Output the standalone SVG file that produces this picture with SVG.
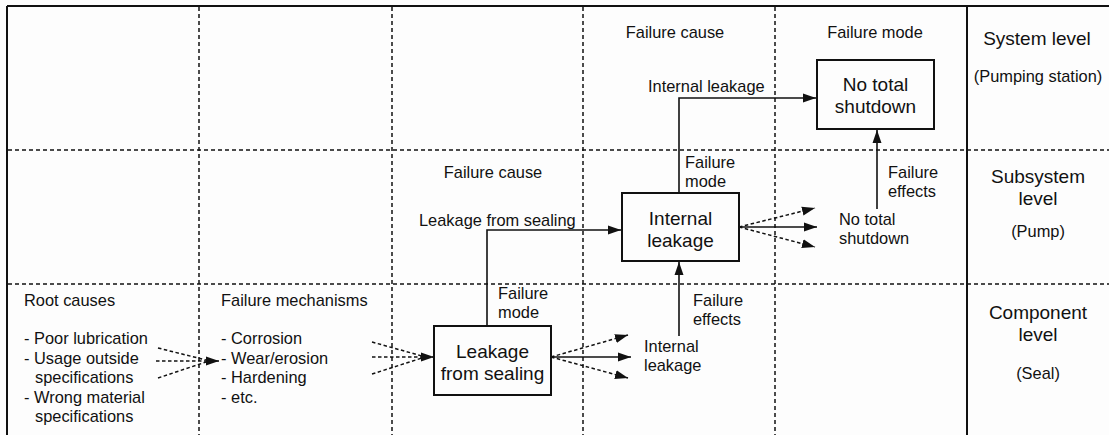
<svg xmlns="http://www.w3.org/2000/svg" width="1109" height="435" viewBox="0 0 1109 435">
  <style>
    text { font-family: "Liberation Sans", Arial, sans-serif; fill: #111; }
    .lbl { font-size: 16.4px; }
    .big { font-size: 19px; }
    .mid { text-anchor: middle; }
    .frame { stroke: #111; stroke-width: 2; fill: none; }
    .grid { stroke: #111; stroke-width: 1.5; stroke-dasharray: 4 3; fill: none; }
    .box { stroke: #111; stroke-width: 2; fill: none; }
    .link { stroke: #111; stroke-width: 1.6; fill: none; }
    .dash { stroke: #111; stroke-width: 1.5; stroke-dasharray: 3.5 2.5; fill: none; }
  </style>
  <defs>
    <marker id="head" markerUnits="userSpaceOnUse" markerWidth="13" markerHeight="10" refX="13" refY="5" orient="auto">
      <path d="M0,0.5 L13,5 L0,9.5 z" fill="#111"/>
    </marker>
  </defs>

  <rect x="0" y="0" width="1109" height="435" fill="#fdfdfd"/>

  <!-- level / stage grid -->
  <g id="grid">
    <line class="frame" x1="7" y1="6" x2="1109" y2="6"/>
    <line class="frame" x1="7" y1="6" x2="7" y2="435"/>
    <line class="grid" x1="199" y1="7" x2="199" y2="435"/>
    <line class="grid" x1="392" y1="7" x2="392" y2="435"/>
    <line class="grid" x1="583" y1="7" x2="583" y2="435"/>
    <line class="grid" x1="775" y1="7" x2="775" y2="435"/>
    <line class="grid" x1="8" y1="150" x2="1109" y2="150"/>
    <line class="grid" x1="8" y1="284" x2="1109" y2="284"/>
    <line class="frame" x1="967" y1="7" x2="967" y2="435" stroke-width="1.6"/>
  </g>

  <!-- level captions -->
  <g id="level-system">
    <text class="big mid" x="1037" y="45">System level</text>
    <text class="lbl mid" x="1038" y="82">(Pumping station)</text>
  </g>
  <g id="level-subsystem">
    <text class="big mid" x="1038" y="183">Subsystem</text>
    <text class="big mid" x="1038" y="205">level</text>
    <text class="lbl mid" x="1038" y="237">(Pump)</text>
  </g>
  <g id="level-component">
    <text class="big mid" x="1038" y="319">Component</text>
    <text class="big mid" x="1038" y="341">level</text>
    <text class="lbl mid" x="1038" y="379">(Seal)</text>
  </g>

  <!-- column headings -->
  <g id="headings">
    <text class="lbl mid" x="675" y="38">Failure cause</text>
    <text class="lbl mid" x="875" y="38">Failure mode</text>
    <text class="lbl mid" x="493" y="178">Failure cause</text>
  </g>

  <!-- component level lists -->
  <g id="root-causes">
    <text class="lbl" x="24" y="306">Root causes</text>
    <text class="lbl" x="24" y="344">- Poor lubrication</text>
    <text class="lbl" x="24" y="363.5">- Usage outside</text>
    <text class="lbl" x="35" y="383">specifications</text>
    <text class="lbl" x="24" y="402.5">- Wrong material</text>
    <text class="lbl" x="35" y="422">specifications</text>
  </g>
  <g id="failure-mechanisms">
    <text class="lbl" x="221" y="306">Failure mechanisms</text>
    <text class="lbl" x="221" y="344">- Corrosion</text>
    <text class="lbl" x="221" y="363.5">- Wear/erosion</text>
    <text class="lbl" x="221" y="383">- Hardening</text>
    <text class="lbl" x="221" y="402.5">- etc.</text>
  </g>

  <!-- boxes -->
  <g id="node-leakage-from-sealing">
    <rect class="box" x="434" y="326" width="117" height="69"/>
    <text class="big mid" x="492.5" y="358">Leakage</text>
    <text class="big mid" x="492.5" y="380">from sealing</text>
  </g>
  <g id="node-internal-leakage">
    <rect class="box" x="622" y="193" width="117" height="68"/>
    <text class="big mid" x="680.5" y="225">Internal</text>
    <text class="big mid" x="680.5" y="247">leakage</text>
  </g>
  <g id="node-no-total-shutdown">
    <rect class="box" x="817" y="60" width="117" height="69"/>
    <text class="big mid" x="875.5" y="91">No total</text>
    <text class="big mid" x="875.5" y="113">shutdown</text>
  </g>

  <!-- free-standing effect labels -->
  <g id="effect-internal-leakage">
    <text class="lbl" x="644" y="352">Internal</text>
    <text class="lbl" x="644" y="371">leakage</text>
  </g>
  <g id="effect-no-total-shutdown">
    <text class="lbl" x="839" y="225">No total</text>
    <text class="lbl" x="839" y="244">shutdown</text>
  </g>

  <!-- connector labels -->
  <g id="connector-labels">
    <text class="lbl" x="498" y="299">Failure</text>
    <text class="lbl" x="498" y="318">mode</text>
    <text class="lbl" x="693" y="306">Failure</text>
    <text class="lbl" x="693" y="325">effects</text>
    <text class="lbl" x="419" y="226">Leakage from sealing</text>
    <text class="lbl" x="685" y="168">Failure</text>
    <text class="lbl" x="685" y="187">mode</text>
    <text class="lbl" x="888" y="178">Failure</text>
    <text class="lbl" x="888" y="197">effects</text>
    <text class="lbl" x="648" y="92">Internal leakage</text>
  </g>

  <!-- connectors -->
  <g id="connectors">
    <!-- root causes to mechanisms -->
    <line class="dash" x1="158" y1="348" x2="206" y2="360"/>
    <line class="dash" x1="158" y1="378" x2="206" y2="362"/>
    <line class="dash" x1="156" y1="361" x2="219" y2="361" marker-end="url(#head)"/>
    <!-- mechanisms to seal leakage -->
    <line class="dash" x1="372" y1="342" x2="422" y2="356"/>
    <line class="dash" x1="372" y1="374" x2="422" y2="358"/>
    <line class="dash" x1="372" y1="357" x2="434" y2="357" marker-end="url(#head)"/>
    <!-- seal leakage effects -->
    <line class="dash" x1="551" y1="357" x2="628" y2="335" marker-end="url(#head)"/>
    <line class="link" x1="551" y1="357" x2="631" y2="357" marker-end="url(#head)"/>
    <line class="dash" x1="551" y1="357" x2="628" y2="378" marker-end="url(#head)"/>
    <!-- pump internal leakage effects -->
    <line class="dash" x1="739" y1="227" x2="815" y2="208" marker-end="url(#head)"/>
    <line class="link" x1="739" y1="227" x2="817" y2="227" marker-end="url(#head)"/>
    <line class="dash" x1="739" y1="227" x2="815" y2="247" marker-end="url(#head)"/>
    <!-- failure mode carried to the next level -->
    <polyline class="link" points="487,326 487,230 621,230" marker-end="url(#head)"/>
    <polyline class="link" points="679,193 679,98 816,98" marker-end="url(#head)"/>
    <!-- failure effects raised one level -->
    <line class="link" x1="679" y1="336" x2="679" y2="262" marker-end="url(#head)"/>
    <line class="link" x1="877" y1="209" x2="877" y2="130" marker-end="url(#head)"/>
  </g>
</svg>
